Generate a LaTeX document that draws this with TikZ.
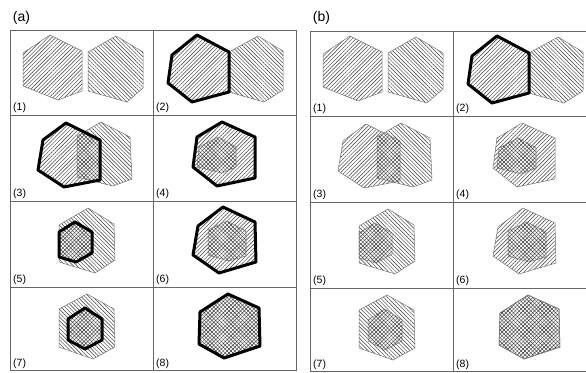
\documentclass[tikz,border=0pt]{standalone}
\usepackage{fontspec}
\setmainfont{Liberation Sans}
\usetikzlibrary{patterns.meta}

\begin{document}
\begin{tikzpicture}[x=1pt, y=-1pt,
  grid/.style={draw=black!60, line width=0.6pt},
  fwd/.style={pattern={Lines[angle=45, distance=2.7pt, line width=0.45pt]}, pattern color=black!80},
  bwd/.style={pattern={Lines[angle=-45, distance=2.7pt, line width=0.45pt]}, pattern color=black!80},
  outl/.style={draw=black!55, line width=0.5pt},
  bold hex/.style={draw=black, line width=3pt, line join=round},
  title/.style={font=\fontsize{14}{16}\selectfont, inner sep=0pt},
  cellno/.style={font=\fontsize{10.5}{12}\selectfont, anchor=base west, inner sep=0pt}]
\useasboundingbox (0,0) rectangle (586,372);
\clip (0,0) rectangle (586,372);
% panel titles
\node[title] (tit-a) at (21.5,18) {(a)};
\node[title] (tit-b) at (321.5,18) {(b)};
% both panels, (b) without the bold outlines
\foreach \dx/\dy/\p in {0/0/0, 300/1/1} {
\begin{scope}[shift={(\dx,\dy)}]
  % grid
  \draw[grid] (10,30) rectangle (296,370.5);
  \draw[grid] (153,30) -- (153,370.5);
  \foreach \y in {115,201,287} \draw[grid] (10,\y) -- (296,\y);
  % cells: / hatched hexagon, \ hatched hexagon
  \foreach \n/\lx/\ly/\fwdhex/\bwdhex in {
    1/13/110/{(50,35) -- (82,51) -- (82,91) -- (58,100) -- (23,86) -- (23,53) -- cycle}/{(116,36) -- (143,52) -- (143,88) -- (127,102) -- (88,91) -- (88,52) -- cycle},
    2/156/110/{(197,35) -- (229,52) -- (229,92) -- (192,102) -- (168,83) -- (172,55) -- cycle}/{(258,36) -- (283,51) -- (283,90) -- (264,102) -- (229,92) -- (229,52) -- cycle},
    3/13/196/{(66,123) -- (100,140) -- (100,180) -- (64,187) -- (38,170) -- (43,140) -- cycle}/{(101,122) -- (130,137) -- (132,179) -- (113,186) -- (77,177) -- (77,136) -- cycle},
    4/156/196/{(222,122) -- (255,137) -- (255,178) -- (217,186) -- (193,167) -- (197,137) -- cycle}/{(218,137) -- (236,147) -- (236,167) -- (222,173) -- (197,167) -- (199,147) -- cycle},
    5/13/282/{(75,222) -- (92,232) -- (92,253) -- (76,262) -- (59,257) -- (59,232) -- cycle}/{(88,208) -- (114,224) -- (115,260) -- (95,273) -- (59,262) -- (59,225) -- cycle},
    6/156/282/{(223,207) -- (255,222) -- (256,262) -- (219,273) -- (193,255) -- (198,226) -- cycle}/{(227,221) -- (246,231) -- (246,256) -- (229,261) -- (208,255) -- (208,230) -- cycle},
    7/13/366/{(85,308) -- (102,319) -- (102,340) -- (85,349) -- (68,340) -- (68,319) -- cycle}/{(87,294) -- (114,309) -- (115,347) -- (93,359) -- (59,347) -- (59,309) -- cycle},
    8/156/366/{(228,294) -- (259,308) -- (260,346) -- (224,358) -- (199,344) -- (200,312) -- cycle}/{(228,294) -- (259,308) -- (260,346) -- (224,358) -- (199,344) -- (200,312) -- cycle}} {
    \path[fwd] \fwdhex;
    \path[bwd] \bwdhex;
    \draw[outl] \fwdhex;
    \draw[outl] \bwdhex;
    \pgfmathtruncatemacro\thk{(\n==2)||((\p==0)&&(\n>1))}
    \ifnum\thk=1 \draw[bold hex] \fwdhex; \fi
    \node[cellno] (no-\p-\n) at (\lx,\ly) {(\n)};
  }
\end{scope}
}
\end{tikzpicture}
\end{document}
